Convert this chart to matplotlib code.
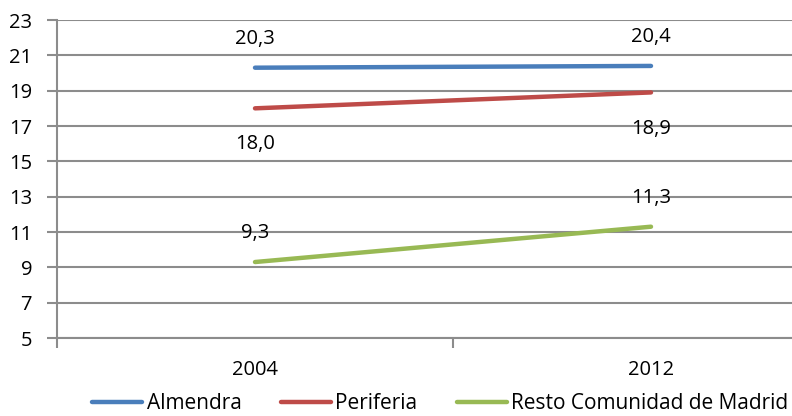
import matplotlib
matplotlib.use('Agg')
import matplotlib.pyplot as plt
from matplotlib.ticker import FixedLocator

years = ['2004', '2012']
almendra = [20.3, 20.4]
periferia = [18.0, 18.9]
resto = [9.3, 11.3]
labels = ['Almendra', 'Periferia', 'Resto Comunidad de Madrid']
colors = ['#4A7EBB', '#BE4B48', '#98B954']
yticks = list(range(5, 24, 2))
# label above (+) or below (-) each point
offsets = [(1, 1), (-1, -1), (1, 1)]

plt.rcParams['font.family'] = ['Open Sans', 'DejaVu Sans']
grid_col = '#8c8c8c'
fs = 14.5

fig = plt.figure(figsize=(7.92, 4.16), dpi=100)
ax = fig.add_axes([57/792, 1-338/416, (849-57)/792, (338-20)/416])

x = list(range(len(years)))
for vals, c, lab, off in zip([almendra, periferia, resto], colors, labels, offsets):
    ax.plot(x, vals, color=c, lw=3.2, solid_capstyle='round', label=lab, zorder=3)
    for xi, v, o in zip(x, vals, off):
        dy = 21 if o > 0 else -26
        ax.annotate(('%.1f' % v).replace('.', ','), (xi, v), xytext=(0, dy),
                    textcoords='offset points', ha='center', va='center', fontsize=fs)

ax.set_xlim(-0.5, 1.5)
ax.set_ylim(5, 23)
ax.yaxis.set_major_locator(FixedLocator(yticks))
ax.xaxis.set_major_locator(FixedLocator([-0.5, 0.5, 1.5]))
ax.xaxis.set_minor_locator(FixedLocator(x))
ax.set_xticklabels([])
ax.set_xticklabels(years, minor=True)
ax.tick_params(axis='x', which='major', length=7, width=1.5, color=grid_col, direction='out')
ax.tick_params(axis='x', which='minor', length=0, pad=16, labelsize=fs)
ax.tick_params(axis='y', length=7, width=1.5, color=grid_col, pad=11, labelsize=fs)
ax.grid(axis='y', color=grid_col, lw=1.5, zorder=0)
for s in ['top', 'right']:
    ax.spines[s].set_visible(False)
for s in ['left', 'bottom']:
    ax.spines[s].set_color(grid_col)
    ax.spines[s].set_linewidth(1.5)

fig.legend(loc='lower center', bbox_to_anchor=(0.556, -0.04), ncol=3, frameon=False,
           fontsize=15, handlelength=2.4, handletextpad=0.2, columnspacing=1.9)

plt.savefig('out.png', dpi=100)
